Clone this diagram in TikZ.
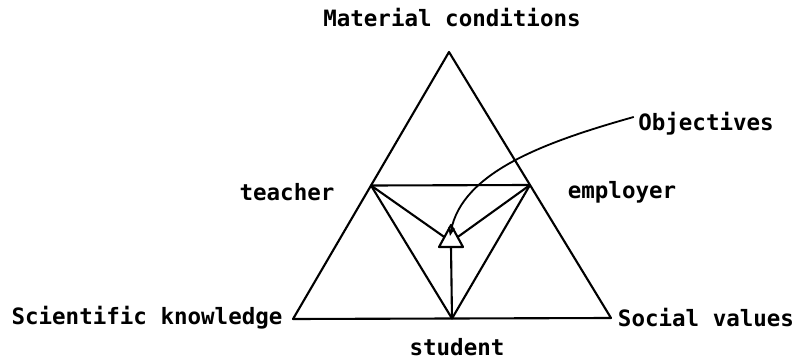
\documentclass[tikz,border=0pt]{standalone}
\usepackage{fontspec}
\setmonofont{DejaVu Sans Mono}
\usepackage{tikz}
\usetikzlibrary{arrows.meta,calc,positioning}
\tikzset{every node/.append style={font=\ttfamily\bfseries\fontsize{16}{18}\selectfont},
  edge/.style={line width=1.5pt,line join=round},
  lbl/.style={inner sep=0pt}}

\begin{document}
\begin{tikzpicture}[x=0.025cm,y=0.025cm,>=Stealth]
  \useasboundingbox (0,0) rectangle (802,362);
  % outer corners
  \coordinate (mat) at (449,310);
  \coordinate (sci) at (293,43);
  \coordinate (soc) at (611,44);
  % midpoints
  \coordinate (tea) at ($(mat)!0.5!(sci)$);
  \coordinate (emp) at ($(mat)!0.5!(soc)$);
  \coordinate (stu) at ($(sci)!0.5!(soc)$);
  % small triangle
  \coordinate (obtop) at (451,137);
  \coordinate (obl) at (439,115);
  \coordinate (obr) at (463,115);
  \draw[edge] (mat)--(sci)--(soc)--cycle;
  \draw[edge] (tea)--(emp)--(stu)--cycle;
  \draw[edge] (obtop)--(obl)--(obr)--cycle;
  \draw[edge] (tea)--($(obl)!0.45!(obtop)$);
  \draw[edge] (emp)--($(obr)!0.45!(obtop)$);
  \draw[edge] ($(obl)!0.5!(obr)$)--(stu);
  % labels
  \node[lbl] (matl) at (452,344) {Material conditions};
  \node[lbl] (teal) at (287,170) {teacher};
  \node[lbl] (empl) at (622,170) {employer};
  \node[lbl] (scil) at (147,44) {Scientific knowledge};
  \node[lbl] (socl) at (706,44) {Social values};
  \node[lbl] (stul) at (457,15) {student};
  \node[lbl] (objl) at (706,238) {Objectives};
  \coordinate (objtip) at (450,126);
  \draw[edge,line width=1.3pt,-{Stealth[length=6pt,width=5pt]}]
    ([xshift=-3pt,yshift=5pt]objl.west)
    .. controls (545,220) and (462,190) .. (objtip);
\end{tikzpicture}
\end{document}
